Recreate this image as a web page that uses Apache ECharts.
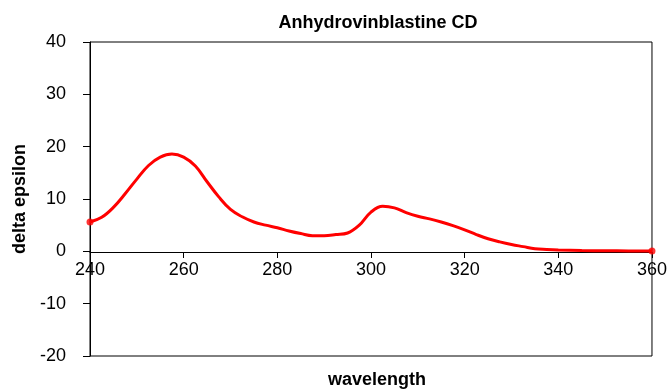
<!DOCTYPE html>
<html>
<head>
<meta charset="utf-8">
<script src="https://cdn.jsdelivr.net/npm/echarts@6/dist/echarts.min.js"></script>
<style>html,body{margin:0;padding:0;background:#fff}#c{width:670px;height:390px}</style>
</head>
<body>
<div id="c"></div>
<script>
var wavelengths = [240,242.5,245,247.5,250,252.5,255,257.5,260,262.5,265,267.5,270,272.5,275,277.5,280,282.5,285,287.5,290,292.5,295,297.5,300,302.5,305,307.5,310,312.5,315,317.5,320,322.5,325,327.5,330,332.5,335,337.5,340,345,350,355,360];
var deltaEpsilon = [5.6,6.5,8.4,11.0,13.8,16.4,18.0,18.6,18.0,16.3,13.3,10.4,8.0,6.6,5.6,5.0,4.5,3.9,3.4,3.0,3.0,3.2,3.5,5.0,7.5,8.6,8.3,7.4,6.7,6.2,5.6,4.9,4.1,3.2,2.4,1.8,1.3,0.9,0.5,0.35,0.25,0.15,0.1,0.08,0.05];
var xTicks = [240,260,280,300,320,340,360];
var yTicks = [-20,-10,0,10,20,30,40];

var lineData = wavelengths.map(function(w,i){return [w, deltaEpsilon[i]];});
var endData = [lineData[0], lineData[lineData.length-1]];
var FF = 'Liberation Sans, Arial, sans-serif';

var chart = echarts.init(document.getElementById('c'), null, {renderer:'canvas'});
chart.setOption({
  animation:false,
  backgroundColor:'#fff',
  textStyle:{fontFamily:FF},
  title:[
    {text:'Anhydrovinblastine CD', left:373, top:9, textAlign:'center',
     textStyle:{fontSize:18, fontWeight:'bold', color:'#000', fontFamily:FF}},
    {text:'wavelength', left:372, top:366, textAlign:'center',
     textStyle:{fontSize:18, fontWeight:'bold', color:'#000', fontFamily:FF}}
  ],
  grid:{left:90, right:15, top:42, bottom:34, show:true, borderColor:'#000', borderWidth:1, backgroundColor:'transparent'},
  xAxis:{
    type:'value', min:xTicks[0], max:xTicks[xTicks.length-1], interval:20,
    position:'bottom', offset:-104,
    axisLine:{onZero:false, lineStyle:{color:'#000', width:1}},
    axisTick:{show:true, inside:false, length:6, lineStyle:{color:'#000'}},
    axisLabel:{color:'#000', fontSize:18, margin:9, fontFamily:FF},
    splitLine:{show:false}
  },
  yAxis:{
    type:'value', min:yTicks[0], max:yTicks[yTicks.length-1], interval:10,
    name:'delta epsilon', nameLocation:'middle', nameGap:57, nameRotate:90,
    nameTextStyle:{fontSize:18, fontWeight:'bold', color:'#000', fontFamily:FF},
    axisLine:{show:true, onZero:false, lineStyle:{color:'#000', width:1}},
    axisTick:{show:true, length:7, lineStyle:{color:'#000'}},
    axisLabel:{color:'#000', fontSize:18, margin:24, fontFamily:FF},
    splitLine:{show:false}
  },
  series:[
    {type:'line', data:lineData, smooth:0.4, symbol:'none', lineStyle:{color:'#ff0000', width:3}, z:3},
    {type:'scatter', data:endData, symbol:'circle', symbolSize:7, itemStyle:{color:'#ff0000'}, z:4}
  ]
});
</script>
</body>
</html>
